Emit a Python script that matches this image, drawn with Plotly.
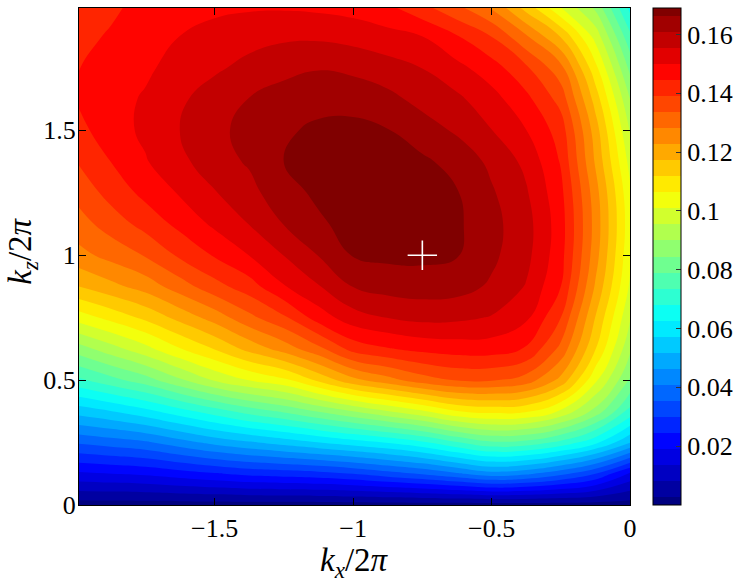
import plotly.graph_objects as go

# grid (kx/2pi across, kz/2pi up)
kx = [-2.0, -1.875, -1.75, -1.625, -1.5, -1.375, -1.25, -1.125, -1.0,
      -0.875, -0.75, -0.625, -0.5, -0.375, -0.25, -0.125, 0.0]
kz = [0.0, 0.125, 0.25, 0.375, 0.5, 0.625, 0.75, 0.875, 1.0,
      1.125, 1.25, 1.375, 1.5, 1.625, 1.75, 1.875, 2.0]

# one row per kz value
rate = [
    [0.000, 0.000, 0.000, 0.000, 0.000, 0.000, 0.000, 0.000, 0.000, 0.000, 0.000, 0.000, 0.000, 0.000, 0.000, 0.000, 0.000],
    [0.018, 0.019, 0.020, 0.022, 0.024, 0.026, 0.027, 0.028, 0.030, 0.033, 0.036, 0.040, 0.044, 0.042, 0.037, 0.030, 0.018],
    [0.036, 0.038, 0.040, 0.044, 0.048, 0.051, 0.054, 0.057, 0.060, 0.063, 0.067, 0.073, 0.078, 0.077, 0.072, 0.064, 0.052],
    [0.054, 0.057, 0.061, 0.066, 0.071, 0.076, 0.080, 0.085, 0.090, 0.095, 0.100, 0.106, 0.108, 0.107, 0.100, 0.088, 0.072],
    [0.072, 0.077, 0.082, 0.089, 0.096, 0.101, 0.105, 0.113, 0.121, 0.126, 0.131, 0.134, 0.134, 0.131, 0.121, 0.102, 0.084],
    [0.087, 0.093, 0.099, 0.106, 0.112, 0.119, 0.125, 0.132, 0.141, 0.144, 0.146, 0.147, 0.147, 0.144, 0.132, 0.112, 0.091],
    [0.103, 0.108, 0.113, 0.119, 0.125, 0.132, 0.138, 0.147, 0.153, 0.1555, 0.157, 0.1565, 0.155, 0.151, 0.139, 0.117, 0.096],
    [0.117, 0.121, 0.125, 0.131, 0.137, 0.142, 0.1495, 0.155, 0.161, 0.163, 0.1635, 0.163, 0.160, 0.155, 0.1445, 0.122, 0.100],
    [0.126, 0.130, 0.134, 0.140, 0.145, 0.150, 0.1555, 0.161, 0.1666, 0.1675, 0.1676, 0.1666, 0.162, 0.157, 0.1465, 0.125, 0.102],
    [0.131, 0.136, 0.141, 0.146, 0.151, 0.1555, 0.161, 0.1655, 0.168, 0.1687, 0.1685, 0.1672, 0.1625, 0.1575, 0.147, 0.126, 0.103],
    [0.135, 0.141, 0.146, 0.1505, 0.155, 0.159, 0.1645, 0.1672, 0.1685, 0.169, 0.1685, 0.1666, 0.1615, 0.156, 0.146, 0.125, 0.102],
    [0.139, 0.1445, 0.1495, 0.154, 0.1585, 0.1615, 0.1664, 0.168, 0.1688, 0.1685, 0.1672, 0.1645, 0.1595, 0.154, 0.144, 0.122, 0.099],
    [0.1425, 0.1475, 0.151, 0.1555, 0.1595, 0.1625, 0.1655, 0.1673, 0.1676, 0.1665, 0.1635, 0.160, 0.1555, 0.150, 0.142, 0.120, 0.095],
    [0.1447, 0.148, 0.1505, 0.1545, 0.158, 0.161, 0.1635, 0.1645, 0.1645, 0.1625, 0.159, 0.1565, 0.152, 0.146, 0.137, 0.115, 0.090],
    [0.1442, 0.1465, 0.149, 0.152, 0.1545, 0.157, 0.159, 0.1605, 0.1595, 0.1575, 0.1553, 0.1515, 0.147, 0.140, 0.130, 0.108, 0.083],
    [0.143, 0.145, 0.1475, 0.150, 0.152, 0.1535, 0.1545, 0.1545, 0.1535, 0.152, 0.150, 0.145, 0.139, 0.129, 0.117, 0.099, 0.075],
    [0.141, 0.1435, 0.146, 0.1475, 0.1485, 0.149, 0.149, 0.1485, 0.1475, 0.145, 0.140, 0.134, 0.127, 0.114, 0.100, 0.088, 0.066],
]

# marked point
mark_x = [-0.75]
mark_z = [1.0]

x_ticks = [-1.5, -1, -0.5, 0]
y_ticks = [0, 0.5, 1, 1.5]
cbar_ticks = [0.02, 0.04, 0.06, 0.08, 0.1, 0.12, 0.14, 0.16]

zmax = 0.169
nbands = 32
step = zmax / (nbands - 1)

# matlab style jet
jet = [
    [0.0, "rgb(0,0,128)"],
    [0.125, "rgb(0,0,255)"],
    [0.375, "rgb(0,255,255)"],
    [0.625, "rgb(255,255,0)"],
    [0.875, "rgb(255,0,0)"],
    [1.0, "rgb(128,0,0)"],
]

serif = "Liberation Serif"

fig = go.Figure()

fig.add_trace(go.Contour(
    x=kx,
    y=kz,
    z=rate,
    colorscale=jet,
    contours=dict(start=step / 2, end=zmax - step / 2, size=step, coloring="fill"),
    line=dict(width=0, smoothing=1.3),
    colorbar=dict(
        x=1.0416, xanchor="left", xpad=0,
        y=0.5, yanchor="middle", ypad=0,
        len=1, lenmode="fraction",
        thickness=28,
        outlinewidth=1, outlinecolor="black",
        ticks="inside", ticklen=5, tickcolor="#333",
        tickvals=cbar_ticks,
        tickfont=dict(family=serif, size=26, color="black"),
    ),
))

fig.add_trace(go.Scatter(
    x=mark_x,
    y=mark_z,
    mode="markers",
    marker=dict(symbol="cross-thin", size=21, line=dict(color="white", width=1.6)),
    showlegend=False,
    hoverinfo="skip",
))

axis_style = dict(
    ticks="inside", ticklen=7, tickcolor="black",
    mirror="ticks", showline=True, linecolor="black", linewidth=1,
    showgrid=False, zeroline=False, automargin=False,
    tickfont=dict(family=serif, size=26, color="black"),
)

fig.update_layout(
    width=747,
    height=587,
    margin=dict(l=79, r=115, t=8, b=82),
    paper_bgcolor="white",
    plot_bgcolor="white",
    showlegend=False,
    xaxis=dict(range=[-1.99, 0], tickvals=x_ticks, **axis_style),
    yaxis=dict(range=[0, 1.99], tickvals=y_ticks, ticklabelstandoff=-3, **axis_style),
)

# axis titles
fig.add_annotation(
    text="<i>k</i><sub><i>x</i></sub>/2<i>π</i>",
    xref="paper", yref="paper", x=0.5, y=-0.07,
    xanchor="center", yanchor="top", showarrow=False,
    font=dict(family=serif, size=33, color="black"),
)
fig.add_annotation(
    text="<i>k</i><sub><i>z</i></sub>/2<i>π</i>",
    xref="paper", yref="paper", x=-0.103, y=0.51,
    xanchor="center", yanchor="middle", textangle=-90, showarrow=False,
    font=dict(family=serif, size=33, color="black"),
)

# page body has a default 8px margin, drop it so the figure sits at 0,0
fig.write_html("out.html", config={"displayModeBar": False},
               post_script="document.body.style.margin='0';")
